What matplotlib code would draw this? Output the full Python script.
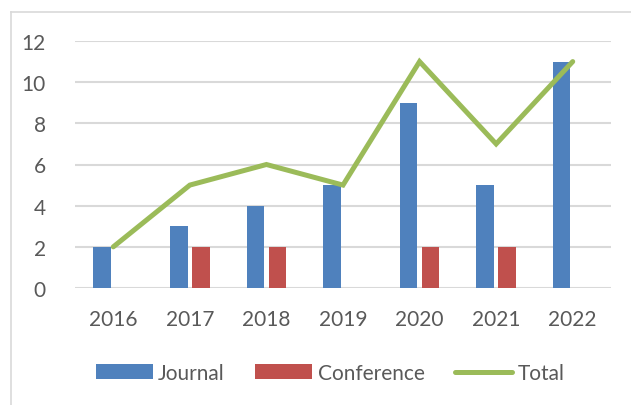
import numpy as np
import matplotlib.pyplot as plt
from matplotlib.lines import Line2D

years = ['2016', '2017', '2018', '2019', '2020', '2021', '2022']
journal = [2, 3, 4, 5, 9, 5, 11]
conference = [0, 2, 2, 0, 2, 2, 0]
total = [2, 5, 6, 5, 11, 7, 11]

W, H = 631, 406
plt.rcParams['font.family'] = ['Lato', 'DejaVu Sans']

fig = plt.figure(figsize=(W / 100, H / 100), dpi=100)
ax = fig.add_axes([75 / W, 1 - 289 / H, (611 - 75) / W, (289 - 42) / H])

x = np.arange(len(years))
width = 0.23
b1 = ax.bar(x - 0.145, journal, width, color='#4F81BD', label='Journal', zorder=3)
b2 = ax.bar(x + 0.145, conference, width, color='#C0504D', label='Conference', zorder=3)
l1, = ax.plot(x, total, color='#9BBB59', lw=3.6, solid_capstyle='round',
              solid_joinstyle='miter', label='Total', zorder=4)

ax.set_xlim(-0.5, len(years) - 0.5)
ax.set_ylim(0, 12)
ax.set_yticks(range(0, 13, 2))
ax.set_xticks(x, years)
ax.grid(axis='y', color='#D9D9D9', lw=1.5, zorder=0)
for s in ax.spines.values():
    s.set_visible(False)
ax.tick_params(length=0, labelsize=15, labelcolor='#595959', pad=15)
ax.tick_params(axis='y', pad=21)

# chart frame (only top/left edges visible in the crop)
fig.add_artist(Line2D([10.5 / W, 1], [1 - 12.5 / H, 1 - 12.5 / H], color='#D9D9D9', lw=1.2))
fig.add_artist(Line2D([10.5 / W, 10.5 / W], [0, 1 - 12.5 / H], color='#D9D9D9', lw=1.2))

fig.legend([b1, b2, l1], ['Journal', 'Conference', 'Total'],
           loc='center', bbox_to_anchor=(330 / W, 1 - 374 / H), ncol=3, frameon=False,
           fontsize=15, labelcolor='#595959', handlelength=2.75, handletextpad=0.25,
           columnspacing=1.45)

fig.savefig('out.png', dpi=100)
